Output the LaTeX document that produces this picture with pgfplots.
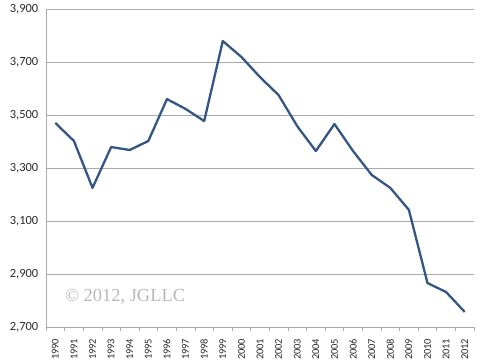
\documentclass[border=0pt]{standalone}
\usepackage{pgfplots}
\pgfplotsset{compat=1.18}
\usepackage{fontspec}
\setmainfont{Carlito}
\newfontfamily\wmfont{Liberation Serif}
\definecolor{linec}{RGB}{52,86,133}
\definecolor{gridc}{RGB}{170,170,170}
\definecolor{labc}{RGB}{40,40,40}
\begin{document}
\begin{tikzpicture}[x=1bp,y=1bp]
\path[use as bounding box] (0,0) rectangle (480,363);
\begin{axis}[
  at={(46bp,36bp)}, anchor=south west,
  scale only axis, width=428bp, height=318bp,
  xmin=-0.5, xmax=22.5, ymin=2700, ymax=3900,
  axis x line=bottom, axis y line=left, axis line style={-, draw=gridc, line width=0.8bp},
  xtick={0,...,22},
  xticklabels={1990,1991,1992,1993,1994,1995,1996,1997,1998,1999,2000,2001,2002,2003,2004,2005,2006,2007,2008,2009,2010,2011,2012},
  major x tick style={draw=none},
  minor xtick={-0.5,0.5,...,22.5},
  minor tick length=4bp,
  minor x tick style={draw=gridc, line width=0.6bp},
  tick align=outside,
  xticklabel style={rotate=90, anchor=east, font=\fontsize{10.5}{11}\selectfont, text=labc, xshift=-4bp},
  ytick={2700,2900,...,3900},
  major y tick style={draw=none},
  ymajorgrids, grid style={draw=gridc, line width=0.8bp},
  yticklabel style={font=\fontsize{12.5}{13}\selectfont, text=labc},
  /pgf/number format/.cd, 1000 sep={,}, assume math mode=true,
]
\addplot[linec, line width=2.3bp, line join=round, mark=none] coordinates {
(0,3470) (1,3402) (2,3225) (3,3379) (4,3368) (5,3402) (6,3560) (7,3523) (8,3477)
(9,3779) (10,3719) (11,3643) (12,3575) (13,3458) (14,3364) (15,3466) (16,3364)
(17,3274) (18,3225) (19,3142) (20,2866) (21,2832) (22,2757)};
\node[text=black!28, font=\wmfont\fontsize{18.5}{18.5}\selectfont] at (axis cs:3.75,2813) {\textcopyright{} 2012, JGLLC};
\end{axis}
\end{tikzpicture}
\end{document}
